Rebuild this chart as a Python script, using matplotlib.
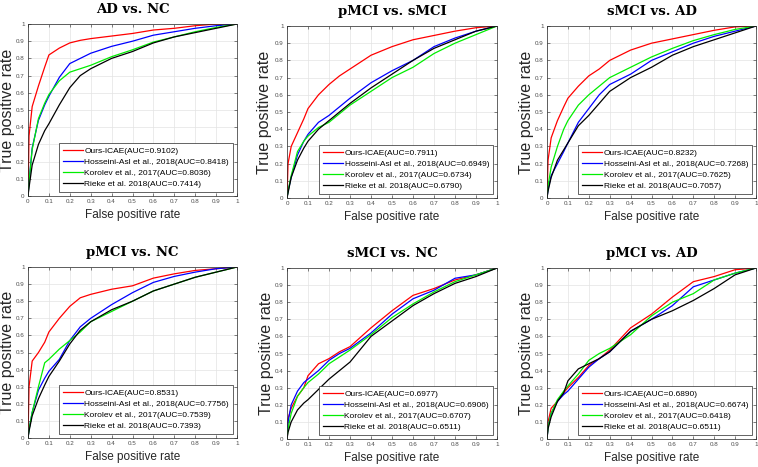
import matplotlib as mpl
import matplotlib.pyplot as plt
import numpy as np

mpl.rcParams['font.family'] = 'Liberation Sans'

# common false positive rate grid the curves were read on
fpr = [0, 0.005, 0.02, 0.05, 0.08, 0.1, 0.15, 0.2, 0.25, 0.3, 0.4, 0.5, 0.6, 0.7, 0.8, 0.9, 1.0]

titles = ['AD vs. NC', 'pMCI vs. sMCI', 'sMCI vs. AD',
          'pMCI vs. NC', 'sMCI vs. NC', 'pMCI vs. AD']
methods = ['Ours-ICAE', 'Hosseini-Asl et al., 2018', 'Korolev et al., 2017', 'Rieke et al. 2018']
colors = ['#ff0000', '#0000ff', '#00ee00', '#000000']

auc_ours = ['0.9102', '0.7911', '0.8232', '0.8531', '0.6977', '0.6890']
auc_hosseini = ['0.8418', '0.6949', '0.7268', '0.7756', '0.6906', '0.6674']
auc_korolev = ['0.8036', '0.6734', '0.7625', '0.7539', '0.6707', '0.6418']
auc_rieke = ['0.7414', '0.6790', '0.7057', '0.7393', '0.6511', '0.6511']

# true positive rates, one list per panel and method
ad_nc_ours = [0, 0.35, 0.52, 0.64, 0.75, 0.82, 0.86, 0.89, 0.905, 0.915, 0.93, 0.945, 0.965, 0.975, 0.99, 1.0, 1]
ad_nc_hos = [0, 0.08, 0.28, 0.44, 0.53, 0.58, 0.69, 0.77, 0.80, 0.83, 0.87, 0.90, 0.935, 0.955, 0.975, 0.99, 1]
ad_nc_kor = [0, 0.08, 0.27, 0.45, 0.54, 0.59, 0.67, 0.72, 0.74, 0.76, 0.81, 0.85, 0.895, 0.925, 0.955, 0.98, 1]
ad_nc_rie = [0, 0.05, 0.18, 0.30, 0.38, 0.42, 0.53, 0.63, 0.70, 0.74, 0.80, 0.84, 0.89, 0.925, 0.95, 0.975, 1]

pmci_smci_ours = [0, 0.20, 0.30, 0.38, 0.46, 0.52, 0.60, 0.66, 0.71, 0.75, 0.83, 0.88, 0.92, 0.945, 0.97, 0.99, 1]
pmci_smci_hos = [0, 0.04, 0.12, 0.25, 0.33, 0.37, 0.44, 0.48, 0.53, 0.58, 0.67, 0.74, 0.80, 0.88, 0.93, 0.97, 1]
pmci_smci_kor = [0, 0.04, 0.13, 0.27, 0.33, 0.36, 0.41, 0.44, 0.49, 0.54, 0.62, 0.70, 0.76, 0.84, 0.90, 0.95, 1]
pmci_smci_rie = [0, 0.03, 0.12, 0.22, 0.29, 0.33, 0.40, 0.45, 0.50, 0.55, 0.64, 0.72, 0.80, 0.87, 0.92, 0.97, 1]

smci_ad_ours = [0, 0.22, 0.35, 0.45, 0.53, 0.58, 0.65, 0.71, 0.75, 0.80, 0.86, 0.90, 0.925, 0.95, 0.975, 0.995, 1]
smci_ad_hos = [0, 0.05, 0.13, 0.20, 0.27, 0.32, 0.44, 0.52, 0.60, 0.66, 0.72, 0.80, 0.85, 0.90, 0.94, 0.97, 1]
smci_ad_kor = [0, 0.07, 0.18, 0.30, 0.40, 0.45, 0.54, 0.60, 0.65, 0.70, 0.76, 0.82, 0.87, 0.915, 0.95, 0.98, 1]
smci_ad_rie = [0, 0.04, 0.12, 0.22, 0.28, 0.32, 0.42, 0.48, 0.55, 0.62, 0.70, 0.76, 0.83, 0.88, 0.92, 0.96, 1]

pmci_nc_ours = [0, 0.30, 0.45, 0.50, 0.56, 0.62, 0.70, 0.77, 0.82, 0.84, 0.87, 0.89, 0.935, 0.96, 0.98, 0.99, 1]
pmci_nc_hos = [0, 0.05, 0.15, 0.28, 0.35, 0.39, 0.46, 0.57, 0.65, 0.70, 0.78, 0.85, 0.91, 0.945, 0.97, 0.99, 1]
pmci_nc_kor = [0, 0.05, 0.15, 0.30, 0.44, 0.46, 0.52, 0.57, 0.62, 0.68, 0.74, 0.80, 0.86, 0.90, 0.94, 0.97, 1]
pmci_nc_rie = [0, 0.04, 0.13, 0.23, 0.31, 0.36, 0.45, 0.55, 0.63, 0.68, 0.75, 0.80, 0.86, 0.90, 0.94, 0.97, 1]

smci_nc_ours = [0, 0.12, 0.18, 0.25, 0.30, 0.37, 0.44, 0.47, 0.51, 0.54, 0.65, 0.75, 0.84, 0.88, 0.93, 0.96, 1]
smci_nc_hos = [0, 0.10, 0.20, 0.28, 0.33, 0.35, 0.40, 0.46, 0.50, 0.53, 0.62, 0.73, 0.82, 0.87, 0.94, 0.96, 1]
smci_nc_kor = [0, 0.06, 0.15, 0.25, 0.30, 0.33, 0.38, 0.44, 0.48, 0.52, 0.61, 0.71, 0.79, 0.86, 0.92, 0.96, 1]
smci_nc_rie = [0, 0.04, 0.10, 0.17, 0.21, 0.23, 0.29, 0.35, 0.40, 0.45, 0.60, 0.69, 0.78, 0.85, 0.91, 0.95, 1]

pmci_ad_ours = [0, 0.10, 0.18, 0.22, 0.27, 0.30, 0.36, 0.43, 0.47, 0.52, 0.65, 0.73, 0.83, 0.92, 0.95, 0.99, 1]
pmci_ad_hos = [0, 0.07, 0.15, 0.22, 0.26, 0.28, 0.35, 0.42, 0.47, 0.51, 0.63, 0.70, 0.78, 0.89, 0.93, 0.97, 1]
pmci_ad_kor = [0, 0.07, 0.15, 0.23, 0.28, 0.31, 0.38, 0.46, 0.50, 0.53, 0.61, 0.72, 0.80, 0.85, 0.93, 0.97, 1]
pmci_ad_rie = [0, 0.06, 0.13, 0.22, 0.27, 0.34, 0.41, 0.44, 0.47, 0.51, 0.63, 0.70, 0.75, 0.81, 0.88, 0.96, 1]

panels = [
    [ad_nc_ours, ad_nc_hos, ad_nc_kor, ad_nc_rie],
    [pmci_smci_ours, pmci_smci_hos, pmci_smci_kor, pmci_smci_rie],
    [smci_ad_ours, smci_ad_hos, smci_ad_kor, smci_ad_rie],
    [pmci_nc_ours, pmci_nc_hos, pmci_nc_kor, pmci_nc_rie],
    [smci_nc_ours, smci_nc_hos, smci_nc_kor, smci_nc_rie],
    [pmci_ad_ours, pmci_ad_hos, pmci_ad_kor, pmci_ad_rie],
]

W, H = 758, 467
fig = plt.figure(figsize=(W / 100, H / 100), dpi=100)

# axes boxes in pixels: left, right, top, bottom
boxes = [(28, 237, 24, 196), (287, 497, 26, 198), (547, 756, 26, 198),
         (28, 237, 267, 438), (287, 497, 268, 439), (547, 756, 268, 439)]
# distance (px) from the axes' left edge to the middle of the y label
ylab_off = [20, 23, 21, 20, 21, 21]

ticks = np.arange(0, 1.01, 0.1)
ticklabels = ['0'] + ['%.1f' % t for t in ticks[1:-1]] + ['1']

for i, (l, r, t, b) in enumerate(boxes):
    ax = fig.add_axes([l / W, 1 - b / H, (r - l) / W, (b - t) / H])
    aucs = [auc_ours[i], auc_hosseini[i], auc_korolev[i], auc_rieke[i]]
    for tpr, c, m, a in zip(panels[i], colors, methods, aucs):
        ax.plot(fpr, tpr, color=c, lw=0.9, label='%s(AUC=%s)' % (m, a))

    ax.set_xlim(0, 1)
    ax.set_ylim(0, 1)
    ax.set_xticks(ticks)
    ax.set_yticks(ticks)
    ax.set_xticklabels(ticklabels)
    ax.set_yticklabels(ticklabels)
    ax.tick_params(direction='in', length=2, width=0.4, labelsize=4.5,
                   colors='#262626', labelcolor='#4d4d4d', pad=2.5,
                   top=True, right=True)
    ax.grid(True, color='#e3e3e3', lw=0.5)
    ax.set_axisbelow(True)
    for s in ax.spines.values():
        s.set_color('#262626')
        s.set_linewidth(0.5)

    ax.set_title(titles[i], fontfamily='DejaVu Serif', fontweight='bold',
                 fontsize=9.5, pad=8)
    ax.set_xlabel('False positive rate', fontsize=8.5, labelpad=3, color='#262626')
    ax.set_ylabel('True positive rate', fontsize=11.5, color='#262626', va='center')
    ax.yaxis.set_label_coords(-ylab_off[i] / (r - l), 0.5)

    leg = ax.legend(loc='lower right', fontsize=6, labelspacing=0.4,
                    handlelength=2.4, handletextpad=0.2, borderpad=0.45,
                    borderaxespad=0.5, fancybox=False, framealpha=1)
    leg.get_frame().set_edgecolor('#262626')
    leg.get_frame().set_linewidth(0.5)

fig.savefig('out.png', dpi=100)
